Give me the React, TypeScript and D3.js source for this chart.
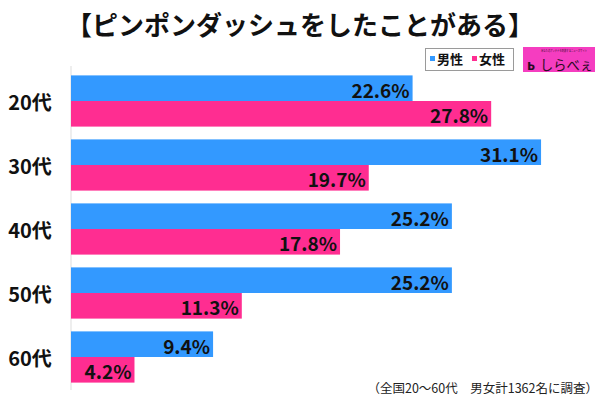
import React from "react";
import * as d3 from "d3";

const categories = ["20代", "30代", "40代", "50代", "60代"];
const seriesNames = ["男性", "女性"];
const maleValues = [22.6, 31.1, 25.2, 25.2, 9.4];
const femaleValues = [27.8, 19.7, 17.8, 11.3, 4.2];
const title = "【ピンポンダッシュをしたことがある】";
const footnote = "（全国20～60代　男女計1362名に調査）";

const BLUE = "#3399FF";
const PINK = "#FF2D91";
const FONT = "'Noto Sans CJK JP', 'Noto Sans', sans-serif";

export default function App() {
  const W = 600;
  const H = 400;
  const y = d3.scaleBand<string>().domain(categories).range([69, 389]).paddingInner(0.2).paddingOuter(0.1);
  const x = d3.scaleLinear().domain([0, 35]).range([71, 600]);
  const sub = d3.scaleBand<string>().domain(seriesNames).range([0, y.bandwidth()]);
  const series = [
    { name: seriesNames[0], values: maleValues, color: BLUE },
    { name: seriesNames[1], values: femaleValues, color: PINK },
  ];
  return (
    <svg width={W} height={H} style={{ position: "absolute", left: 0, top: 0, background: "#fff" }} fontFamily={FONT}>
      <rect x={0} y={0} width={W} height={H} fill="#fff" />
      <text x={300} y={35} textAnchor="middle" fontSize={26} fontWeight="bold" fill="#111">{title}</text>
      {/* legend */}
      <rect x={425.5} y={48.5} width={88} height={22} fill="#fff" stroke="#9a9a9a" />
      <rect x={430} y={56} width={5} height={5} fill={BLUE} />
      <text x={437} y={64} fontSize={13} fontWeight="bold" fill="#111">{seriesNames[0]}</text>
      <rect x={472} y={56} width={5} height={5} fill={PINK} />
      <text x={479} y={64} fontSize={13} fontWeight="bold" fill="#111">{seriesNames[1]}</text>
      {/* logo */}
      <rect x={523} y={47} width={72} height={25} fill="#F53DC0" />
      <text x={541} y={52} fontSize={3} textLength={46} lengthAdjust="spacingAndGlyphs" fill="#3a1030">あなたのアンテナを刺激するニュースサイト</text>
      <text x={527} y={70} fontSize={14} fontWeight="bold" fill="#2a0a22">ь</text>
      <text x={540} y={70} fontSize={14} textLength={53} lengthAdjust="spacingAndGlyphs" fill="#2a0a22">しらべぇ</text>
      {/* axis line */}
      <line x1={71} x2={71} y1={66} y2={390} stroke="#dddddd" strokeWidth={1} />
      {categories.map((c, i) => (
        <g key={c}>
          <text x={30} y={(y(c) ?? 0) + y.bandwidth() / 2} textAnchor="middle" dominantBaseline="central" fontSize={20} fontWeight="bold" fill="#111">{c}</text>
          {series.map((s) => {
            const y0 = (y(c) ?? 0) + (sub(s.name) ?? 0);
            const x1 = x(s.values[i]);
            return (
              <g key={s.name}>
                <rect x={x(0)} y={y0} width={x1 - x(0)} height={sub.bandwidth()} fill={s.color} />
                <text x={x1 - 3} y={y0 + sub.bandwidth() / 2 + 1} textAnchor="end" dominantBaseline="central" fontSize={19} fontWeight="bold" fill="#111">{s.values[i].toFixed(1)}%</text>
              </g>
            );
          })}
        </g>
      ))}
      <text x={598} y={393} textAnchor="end" fontSize={12.5} fill="#222">{footnote}</text>
    </svg>
  );
}
